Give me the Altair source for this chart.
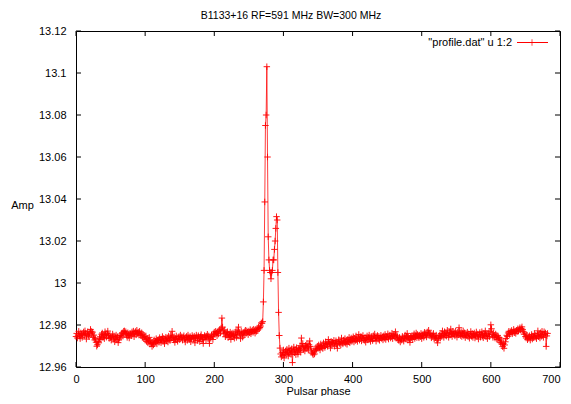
import altair as alt
import pandas as pd

# ---- data (phase bins 0..682) ----
amp_0_269 = [
    12.9745, 12.9760, 12.9738, 12.9752, 12.9770, 12.9748, 12.9735, 12.9762, 12.9756, 12.9741,
    12.9758, 12.9767, 12.9749, 12.9772, 12.9760, 12.9733, 12.9755, 12.9768, 12.9751, 12.9744,
    12.9762, 12.9779, 12.9770, 12.9758, 12.9766, 12.9741, 12.9752, 12.9729, 12.9735, 12.9718,
    12.9699, 12.9706, 12.9722, 12.9715, 12.9738, 12.9744, 12.9731, 12.9756, 12.9762, 12.9740,
    12.9751, 12.9735, 12.9768, 12.9755, 12.9742, 12.9760, 12.9771, 12.9749, 12.9736, 12.9752,
    12.9741, 12.9728, 12.9745, 12.9757, 12.9733, 12.9748, 12.9720, 12.9739, 12.9752, 12.9731,
    12.9744, 12.9716, 12.9729, 12.9738, 12.9750, 12.9742, 12.9758, 12.9763, 12.9747, 12.9770,
    12.9772, 12.9760, 12.9768, 12.9754, 12.9741, 12.9763, 12.9751, 12.9738, 12.9760, 12.9756,
    12.9749, 12.9767, 12.9758, 12.9771, 12.9744, 12.9762, 12.9769, 12.9753, 12.9775, 12.9760,
    12.9766, 12.9752, 12.9770, 12.9758, 12.9749, 12.9763, 12.9741, 12.9756, 12.9737, 12.9745,
    12.9730, 12.9748, 12.9722, 12.9736, 12.9715, 12.9728, 12.9741, 12.9709, 12.9724, 12.9712,
    12.9698, 12.9717, 12.9705, 12.9729, 12.9714, 12.9721, 12.9735, 12.9710, 12.9726, 12.9731,
    12.9718, 12.9740, 12.9727, 12.9716, 12.9733, 12.9745, 12.9722, 12.9737, 12.9711, 12.9729,
    12.9742, 12.9725, 12.9738, 12.9719, 12.9747, 12.9733, 12.9726, 12.9752, 12.9738, 12.9770,
    12.9741, 12.9729, 12.9744, 12.9717, 12.9735, 12.9748, 12.9731, 12.9722, 12.9739, 12.9745,
    12.9730, 12.9752, 12.9737, 12.9744, 12.9728, 12.9741, 12.9749, 12.9733, 12.9719, 12.9740,
    12.9746, 12.9727, 12.9752, 12.9738, 12.9731, 12.9745, 12.9720, 12.9736, 12.9750, 12.9741,
    12.9734, 12.9747, 12.9715, 12.9739, 12.9752, 12.9743, 12.9726, 12.9749, 12.9737, 12.9721,
    12.9745, 12.9754, 12.9731, 12.9740, 12.9712, 12.9738, 12.9750, 12.9744, 12.9729, 12.9747,
    12.9756, 12.9733, 12.9748, 12.9712, 12.9741, 12.9737, 12.9752, 12.9745, 12.9731, 12.9758,
    12.9766, 12.9754, 12.9770, 12.9761, 12.9749, 12.9768, 12.9757, 12.9773, 12.9779, 12.9762,
    12.9785, 12.9833, 12.9790, 12.9771, 12.9758, 12.9776, 12.9744, 12.9765, 12.9752, 12.9768,
    12.9740, 12.9757, 12.9749, 12.9766, 12.9731, 12.9758, 12.9745, 12.9762, 12.9750, 12.9737,
    12.9755, 12.9768, 12.9741, 12.9776, 12.9752, 12.9790, 12.9763, 12.9758, 12.9735, 12.9770,
    12.9757, 12.9742, 12.9764, 12.9751, 12.9768, 12.9775, 12.9760, 12.9772, 12.9766, 12.9754,
    12.9771, 12.9763, 12.9778, 12.9758, 12.9769, 12.9776, 12.9765, 12.9780, 12.9772, 12.9761,
    12.9778, 12.9770, 12.9785, 12.9776, 12.9790, 12.9782, 12.9788, 12.9795, 12.9810, 12.9808,
]

amp_270_295 = [
    12.9816, 12.9910, 13.0060, 13.0386, 13.0750, 13.0800, 13.1030, 13.0600, 13.0220, 13.0110,
    13.0060, 13.0050, 13.0020, 13.0050, 13.0060, 13.0110, 13.0110, 13.0160, 13.0200, 13.0260,
    13.0316, 13.0300, 13.0050, 12.9860, 12.9750, 12.9690,
]

amp_296_682 = [
    12.9662, 12.9648, 12.9670, 12.9655, 12.9681, 12.9643, 12.9668, 12.9676, 12.9659, 12.9684,
    12.9671, 12.9652, 12.9690, 12.9666, 12.9679, 12.9660, 12.9687, 12.9621, 12.9674, 12.9695,
    12.9668, 12.9683, 12.9659, 12.9692, 12.9675, 12.9661, 12.9688, 12.9679, 12.9701, 12.9670,
    12.9738, 12.9694, 12.9712, 12.9685, 12.9698, 12.9676, 12.9703, 12.9689, 12.9711, 12.9694,
    12.9680, 12.9706, 12.9724, 12.9698, 12.9686, 12.9671, 12.9665, 12.9658, 12.9672, 12.9662,
    12.9679, 12.9690, 12.9684, 12.9699, 12.9688, 12.9705, 12.9692, 12.9681, 12.9710, 12.9696,
    12.9702, 12.9688, 12.9715, 12.9700, 12.9693, 12.9720, 12.9706, 12.9712, 12.9698, 12.9731,
    12.9709, 12.9716, 12.9690, 12.9722, 12.9704, 12.9718, 12.9711, 12.9727, 12.9699, 12.9714,
    12.9725, 12.9708, 12.9689, 12.9719, 12.9730, 12.9712, 12.9722, 12.9705, 12.9738, 12.9716,
    12.9710, 12.9728, 12.9717, 12.9735, 12.9713, 12.9724, 12.9708, 12.9731, 12.9720, 12.9741,
    12.9715, 12.9727, 12.9738, 12.9722, 12.9733, 12.9744, 12.9719, 12.9737, 12.9726, 12.9748,
    12.9731, 12.9722, 12.9740, 12.9755, 12.9728, 12.9736, 12.9745, 12.9724, 12.9739, 12.9750,
    12.9733, 12.9727, 12.9742, 12.9718, 12.9736, 12.9748, 12.9729, 12.9740, 12.9752, 12.9731,
    12.9722, 12.9745, 12.9737, 12.9726, 12.9749, 12.9734, 12.9757, 12.9738, 12.9723, 12.9741,
    12.9750, 12.9732, 12.9746, 12.9727, 12.9739, 12.9751, 12.9736, 12.9744, 12.9729, 12.9748,
    12.9737, 12.9755, 12.9731, 12.9745, 12.9740, 12.9758, 12.9733, 12.9747, 12.9752, 12.9738,
    12.9745, 12.9761, 12.9735, 12.9749, 12.9756, 12.9742, 12.9768, 12.9737, 12.9751, 12.9744,
    12.9730, 12.9726, 12.9741, 12.9719, 12.9735, 12.9728, 12.9746, 12.9737, 12.9723, 12.9740,
    12.9752, 12.9733, 12.9745, 12.9760, 12.9728, 12.9741, 12.9735, 12.9717, 12.9746, 12.9739,
    12.9750, 12.9731, 12.9744, 12.9758, 12.9736, 12.9748, 12.9762, 12.9740, 12.9755, 12.9746,
    12.9739, 12.9752, 12.9744, 12.9760, 12.9735, 12.9749, 12.9757, 12.9741, 12.9765, 12.9750,
    12.9758, 12.9743, 12.9767, 12.9752, 12.9775, 12.9761, 12.9748, 12.9757, 12.9739, 12.9753,
    12.9746, 12.9760, 12.9733, 12.9748, 12.9739, 12.9752, 12.9728, 12.9715, 12.9736, 12.9744,
    12.9751, 12.9738, 12.9760, 12.9745, 12.9772, 12.9756, 12.9741, 12.9768, 12.9750, 12.9763,
    12.9747, 12.9775, 12.9758, 12.9741, 12.9766, 12.9752, 12.9781, 12.9760, 12.9745, 12.9770,
    12.9756, 12.9763, 12.9748, 12.9771, 12.9759, 12.9742, 12.9765, 12.9753, 12.9787, 12.9761,
    12.9750, 12.9768, 12.9745, 12.9759, 12.9772, 12.9748, 12.9763, 12.9740, 12.9757, 12.9751,
    12.9766, 12.9744, 12.9758, 12.9737, 12.9752, 12.9769, 12.9746, 12.9760, 12.9741, 12.9755,
    12.9762, 12.9738, 12.9750, 12.9767, 12.9745, 12.9757, 12.9733, 12.9752, 12.9764, 12.9742,
    12.9756, 12.9768, 12.9747, 12.9739, 12.9761, 12.9750, 12.9772, 12.9744, 12.9758, 12.9735,
    12.9753, 12.9762, 12.9745, 12.9770, 12.9801, 12.9782, 12.9755, 12.9741, 12.9763, 12.9750,
    12.9738, 12.9757, 12.9745, 12.9731, 12.9749, 12.9740, 12.9724, 12.9738, 12.9716, 12.9729,
    12.9708, 12.9697, 12.9712, 12.9689, 12.9705, 12.9720, 12.9736, 12.9751, 12.9745, 12.9762,
    12.9770, 12.9755, 12.9768, 12.9761, 12.9774, 12.9758, 12.9766, 12.9779, 12.9763, 12.9771,
    12.9760, 12.9775, 12.9768, 12.9782, 12.9771, 12.9778, 12.9787, 12.9776, 12.9783, 12.9791,
    12.9779, 12.9768, 12.9756, 12.9762, 12.9745, 12.9738, 12.9752, 12.9730, 12.9744, 12.9736,
    12.9749, 12.9728, 12.9741, 12.9755, 12.9733, 12.9746, 12.9739, 12.9760, 12.9742, 12.9751,
    12.9735, 12.9748, 12.9772, 12.9744, 12.9757, 12.9738, 12.9763, 12.9746, 12.9770, 12.9752,
    12.9741, 12.9768, 12.9755, 12.9762, 12.9698, 12.9748, 12.9760,
]

x_ticks = [0, 100, 200, 300, 400, 500, 600, 700]
y_ticks = [12.96, 12.98, 13.0, 13.02, 13.04, 13.06, 13.08, 13.1, 13.12]
title_text = "B1133+16 RF=591 MHz BW=300 MHz"
legend_label = '"profile.dat" u 1:2'

amp = amp_0_269 + amp_270_295 + amp_296_682
df = pd.DataFrame({"phase": list(range(len(amp))), "amp": amp})
xt = pd.DataFrame({"v": x_ticks})
yt = pd.DataFrame({"v": y_ticks})
leg = pd.DataFrame({"label": [legend_label]})

W, H = 484, 336
FONT = "Liberation Sans"
RED = "#ff0000"
PLUS = "M-1,0L1,0M0,-1L0,1"

xscale = alt.Scale(domain=[0, 700], nice=False, zero=False)
yscale = alt.Scale(domain=[12.96, 13.12], nice=False, zero=False)

xaxis = alt.Axis(title="Pulsar phase", values=x_ticks, format="d", ticks=False, tickSize=0,
                 domain=False, grid=False, labelPadding=6, labelFlush=False,
                 labelAlign={"condition": {"test": "datum.value >= 700", "value": "right"},
                             "value": "center"},
                 titleX=W / 2, titleY=27, titleBaseline="alphabetic", titleAlign="center")
yaxis = alt.Axis(title="Amp", values=y_ticks, format="~g", ticks=False, tickSize=0,
                 domain=False, grid=False, labelPadding=10, labelFlush=False, titleAngle=0,
                 titleX=-54, titleY=174, titleAlign="center", titleBaseline="middle")

base = alt.Chart(df)
line = base.mark_line(color=RED, strokeWidth=0.9, opacity=0.85).encode(
    x=alt.X("phase:Q", scale=xscale, axis=xaxis),
    y=alt.Y("amp:Q", scale=yscale, axis=yaxis),
)
pts = base.mark_point(shape=PLUS, size=42, color=RED, strokeWidth=1, filled=False, opacity=0.9).encode(
    x=alt.X("phase:Q", scale=xscale),
    y=alt.Y("amp:Q", scale=yscale),
)

TL = 5
xt_bot = alt.Chart(xt).mark_rule(color="black", strokeWidth=1).encode(
    x=alt.X("v:Q", scale=xscale), y=alt.value(H), y2=alt.value(H - TL))
xt_top = alt.Chart(xt).mark_rule(color="black", strokeWidth=1).encode(
    x=alt.X("v:Q", scale=xscale), y=alt.value(0), y2=alt.value(TL))
yt_left = alt.Chart(yt).mark_rule(color="black", strokeWidth=1).encode(
    y=alt.Y("v:Q", scale=yscale), x=alt.value(0), x2=alt.value(TL))
yt_right = alt.Chart(yt).mark_rule(color="black", strokeWidth=1).encode(
    y=alt.Y("v:Q", scale=yscale), x=alt.value(W), x2=alt.value(W - TL))

leg_text = alt.Chart(leg).mark_text(align="right", baseline="alphabetic", font=FONT,
                                    fontSize=11, color="black").encode(
    text="label:N", x=alt.value(436), y=alt.value(15))
leg_line = alt.Chart(leg).mark_rule(color=RED, strokeWidth=1).encode(
    x=alt.value(441), x2=alt.value(472), y=alt.value(11.5))
leg_pt = alt.Chart(leg).mark_point(shape=PLUS, size=42, color=RED, strokeWidth=1, filled=False).encode(
    x=alt.value(456), y=alt.value(11.5))

chart = alt.layer(line, pts, xt_bot, xt_top, yt_left, yt_right, leg_text, leg_line, leg_pt).properties(
    width=W, height=H,
    title=alt.TitleParams(text=title_text, font=FONT, fontSize=10.5, fontWeight="normal",
                          color="black", anchor="middle", frame="group", dx=-27, dy=14, offset=10,
                          baseline="alphabetic"),
    autosize=alt.AutoSizeParams(type="none"),
    padding={"left": 68, "top": 23, "right": 3, "bottom": 29},
).configure_view(stroke="black", strokeWidth=1).configure_axis(
    labelFont=FONT, titleFont=FONT, labelFontSize=11, titleFontSize=11,
    labelColor="black", titleColor="black", titleFontWeight="normal",
)

chart.save("out.html", embed_options={"renderer": "svg", "actions": False})
